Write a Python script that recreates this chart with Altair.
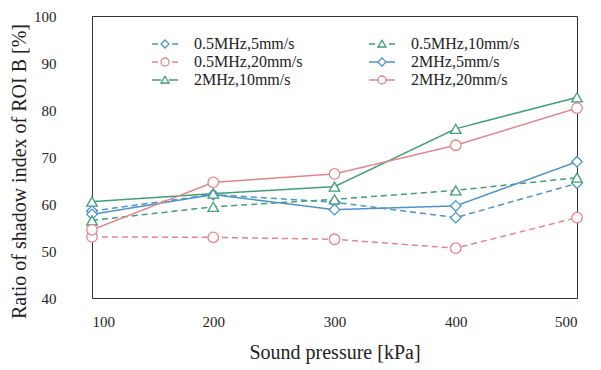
import altair as alt
import pandas as pd

pressure = [100, 200, 300, 400, 500]
series_names = ["0.5MHz,5mm/s", "0.5MHz,10mm/s", "0.5MHz,20mm/s",
                "2MHz,5mm/s", "2MHz,10mm/s", "2MHz,20mm/s"]
v_05_5 = [58.5, 62.0, 60.4, 57.1, 64.4]
v_05_10 = [56.5, 59.4, 61.0, 62.9, 65.6]
v_05_20 = [53.0, 52.9, 52.5, 50.6, 57.1]
v_2_5 = [57.8, 62.0, 58.8, 59.6, 69.0]
v_2_10 = [60.5, 62.2, 63.7, 76.0, 82.7]
v_2_20 = [54.5, 64.6, 66.4, 72.5, 80.4]
all_values = [v_05_5, v_05_10, v_05_20, v_2_5, v_2_10, v_2_20]

colors = ["#4b93cc", "#3f9f75", "#e2868c", "#4b93cc", "#3f9f75", "#e2868c"]
line_style = ["dashed", "dashed", "dashed", "solid", "solid", "solid"]
marker_of = ["diamond", "triangle-up", "circle", "diamond", "triangle-up", "circle"]

diamond = "M0,-0.8L0.8,0L0,0.8L-0.8,0Z"
triangle = "M0,-0.75L0.8,0.6L-0.8,0.6Z"
circle = "M-0.8,0A0.8,0.8,0,1,1,0.8,0A0.8,0.8,0,1,1,-0.8,0Z"
stub_solid = "M-2.6,0L-0.8,0M0.8,0L2.6,0"
stub_dash = "M-2.6,0L-1.4,0M1.4,0L2.6,0"
legend_shapes = [stub_dash + diamond, stub_dash + triangle, stub_dash + circle,
                 stub_solid + diamond, stub_solid + triangle, stub_solid + circle]

rows = []
for name, vals, mk, st in zip(series_names, all_values, marker_of, line_style):
    for p, v in zip(pressure, vals):
        rows.append({"pressure": p, "value": v, "series": name, "marker": mk, "style": st})
df = pd.DataFrame(rows)

FONT = "Liberation Serif"
x = alt.X("pressure:Q", scale=alt.Scale(domain=[100, 500], nice=False),
          axis=alt.Axis(values=pressure, title="Sound pressure [kPa]", grid=False,
                        ticks=False, labelPadding=16, titlePadding=13,
                        labelFontSize=15, titleFontSize=20))
y = alt.Y("value:Q", scale=alt.Scale(domain=[40, 100], nice=False),
          axis=alt.Axis(values=[40, 50, 60, 70, 80, 90, 100],
                        title="Ratio of shadow index of ROI B [%]", grid=False,
                        ticks=False, labelPadding=36, titlePadding=4, titleY=155,
                        labelFontSize=15, titleFontSize=20))

legend_def = alt.Legend(title=None, orient="none", legendX=65, legendY=20,
                        columns=2, direction="horizontal", columnPadding=63,
                        rowPadding=2, symbolSize=100, symbolOpacity=1,
                        symbolStrokeWidth=1.3, labelOffset=21, labelFontSize=16,
                        labelFont=FONT, labelColor="#222", padding=0)

stroke_enc = alt.Stroke("series:N", scale=alt.Scale(domain=series_names, range=colors),
                        legend=legend_def)

lines = alt.Chart(df).mark_line(strokeWidth=1.5).encode(
    x=x, y=y, stroke=stroke_enc, detail="series:N",
    strokeDash=alt.StrokeDash("style:N",
                              scale=alt.Scale(domain=["dashed", "solid"],
                                              range=[[6, 4], [1, 0]]),
                              legend=None),
)

point_layers = []
for mk in ["diamond", "triangle-up", "circle"]:
    point_layers.append(
        alt.Chart(df).transform_filter(alt.datum.marker == mk).mark_point(
            shape=mk, size=110, fill="white", fillOpacity=1, strokeWidth=1.3, opacity=1
        ).encode(x=x, y=y, stroke=stroke_enc)
    )

legend_layer = alt.Chart(df).mark_point(opacity=0, strokeWidth=1.3).encode(
    x=x, y=y, stroke=stroke_enc,
    shape=alt.Shape("series:N", scale=alt.Scale(domain=series_names, range=legend_shapes),
                    legend=legend_def),
)

chart = alt.layer(lines, *point_layers, legend_layer).properties(
    width=485, height=282,
    autosize=alt.AutoSizeParams(type="none"),
    padding={"left": 84, "top": 8, "right": 16, "bottom": 68},
    background="white",
).configure_axis(
    labelFont=FONT, titleFont=FONT, labelColor="#222", titleColor="#222",
    domainColor="#333", titleFontWeight="normal",
).configure_view(stroke="#333", strokeWidth=1)

chart.save("out.html", embed_options={"renderer": "svg", "actions": False})
